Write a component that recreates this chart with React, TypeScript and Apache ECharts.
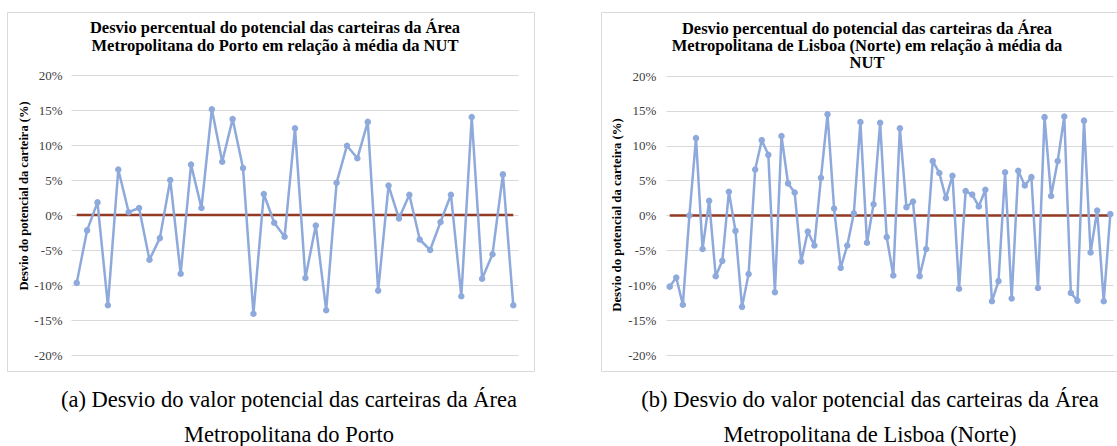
import { useEffect, useRef } from "react";
import * as echarts from "echarts";

// Porto: 43 portfolios, deviation (%) from NUT mean
const portoValues = [
  -9.7, -2.2, 1.8, -12.9, 6.5, 0.4, 1.0, -6.4, -3.3, 5.0,
  -8.4, 7.2, 1.0, 15.1, 7.6, 13.7, 6.7, -14.1, 3.0, -1.1,
  -3.1, 12.4, -9.0, -1.5, -13.6, 4.6, 9.9, 8.1, 13.3, -10.8,
  4.2, -0.5, 2.9, -3.5, -5.0, -1.0, 2.9, -11.6, 14.0, -9.1,
  -5.6, 5.8, -12.9,
];

// Lisboa (Norte): 68 portfolios, deviation (%) from NUT mean
const lisboaValues = [
  -10.2, -8.9, -12.8, 0.0, 11.1, -4.8, 2.1, -8.7, -6.5, 3.4,
  -2.2, -13.1, -8.4, 6.6, 10.8, 8.7, -11.0, 11.4, 4.6, 3.3,
  -6.6, -2.3, -4.3, 5.4, 14.5, 1.0, -7.5, -4.3, 0.3, 13.4,
  -3.9, 1.6, 13.3, -3.1, -8.6, 12.5, 1.2, 2.0, -8.7, -4.8,
  7.8, 6.1, 2.5, 5.7, -10.5, 3.5, 3.0, 1.3, 3.7, -12.3,
  -9.4, 6.2, -11.9, 6.4, 4.3, 5.5, -10.4, 14.1, 2.8, 7.8,
  14.2, -11.1, -12.2, 13.6, -5.3, 0.7, -12.3, 0.2,
];

const portoCategories = portoValues.map((_, i) => String(i + 1));
const lisboaCategories = lisboaValues.map((_, i) => String(i + 1));

// NUT mean reference (deviation 0%)
const nutMean = 0;
const portoMean = portoCategories.map(() => nutMean);
const lisboaMean = lisboaCategories.map(() => nutMean);

const yMin = -20;
const yMax = 20;
const yStep = 5;

const portoTitle =
  "Desvio percentual do potencial das carteiras da Área\nMetropolitana do Porto em relação à média da NUT";
const lisboaTitle =
  "Desvio percentual do potencial das carteiras da Área\nMetropolitana de Lisboa (Norte) em relação à média da\nNUT";
const yName = "Desvio do potencial da carteira (%)";
const portoCaption =
  "(a) Desvio do valor potencial das carteiras da Área\nMetropolitana do Porto";
const lisboaCaption =
  "(b) Desvio do valor potencial das carteiras da Área\nMetropolitana de Lisboa (Norte)";

const SERIF = "'Liberation Serif', 'Times New Roman', serif";
const LINE = "#8EA9DB";
const RED = "#943A22";
const GRID = "#D9D9D9";

export default function App() {
  const ref = useRef<HTMLDivElement>(null);

  useEffect(() => {
    if (!ref.current) return;
    const chart = echarts.init(ref.current, null, { renderer: "svg" });

    const xAxisBase = {
      type: "category" as const,
      boundaryGap: true,
      axisLine: { show: false },
      axisTick: { show: false },
      axisLabel: { show: false },
      splitLine: { show: false },
    };
    const yAxisBase = (margin: number) => ({
      type: "value" as const,
      min: yMin,
      max: yMax,
      interval: yStep,
      axisLine: { show: false },
      axisTick: { show: false },
      axisLabel: {
        formatter: (v: number) => `${v}%`,
        fontFamily: SERIF,
        fontSize: 13,
        color: "#404040",
        margin,
      },
      splitLine: { show: true, lineStyle: { color: GRID, width: 1 } },
    });

    const lineSeries = (data: number[], idx: number) => ({
      type: "line" as const,
      xAxisIndex: idx,
      yAxisIndex: idx,
      data,
      symbol: "circle",
      symbolSize: 6.5,
      showSymbol: true,
      showAllSymbol: true,
      lineStyle: { color: LINE, width: 2.5 },
      itemStyle: { color: LINE },
      z: 3,
    });
    const meanSeries = (data: number[], idx: number) => ({
      type: "line" as const,
      xAxisIndex: idx,
      yAxisIndex: idx,
      data,
      symbol: "none",
      lineStyle: { color: RED, width: 2.5 },
      z: 2,
    });

    const textStyle = (extra: Record<string, unknown>) => ({
      fontFamily: SERIF,
      fill: "#000",
      ...extra,
    });

    chart.setOption({
      animation: false,
      backgroundColor: "#ffffff",
      grid: [
        { left: 71.5, top: 75, width: 447, height: 280 },
        { left: 666.4, top: 76, width: 447.2, height: 279 },
      ],
      xAxis: [
        { ...xAxisBase, gridIndex: 0, data: portoCategories },
        { ...xAxisBase, gridIndex: 1, data: lisboaCategories },
      ],
      yAxis: [
        { ...yAxisBase(9), gridIndex: 0 },
        { ...yAxisBase(10), gridIndex: 1 },
      ],
      series: [
        meanSeries(portoMean, 0),
        lineSeries(portoValues, 0),
        meanSeries(lisboaMean, 1),
        lineSeries(lisboaValues, 1),
      ],
      graphic: [
        {
          type: "rect",
          shape: { x: 7.5, y: 12.5, width: 527, height: 359 },
          style: { fill: "none", stroke: GRID, lineWidth: 1 },
          silent: true,
        },
        {
          type: "rect",
          shape: { x: 601.5, y: 12.5, width: 530, height: 359 },
          style: { fill: "none", stroke: GRID, lineWidth: 1 },
          silent: true,
        },
        {
          type: "text",
          x: 275,
          y: 18,
          style: textStyle({
            text: portoTitle,
            fontWeight: "bold",
            fontSize: 16.5,
            lineHeight: 18,
            align: "center",
            verticalAlign: "top",
          }),
        },
        {
          type: "text",
          x: 867,
          y: 20,
          style: textStyle({
            text: lisboaTitle,
            fontWeight: "bold",
            fontSize: 16.5,
            lineHeight: 17,
            align: "center",
            verticalAlign: "top",
          }),
        },
        {
          type: "text",
          x: 24,
          y: 196,
          rotation: Math.PI / 2,
          style: textStyle({
            text: yName,
            fontWeight: "bold",
            fontSize: 12.5,
            align: "center",
            verticalAlign: "middle",
          }),
        },
        {
          type: "text",
          x: 617,
          y: 215,
          rotation: Math.PI / 2,
          style: textStyle({
            text: yName,
            fontWeight: "bold",
            fontSize: 12.8,
            align: "center",
            verticalAlign: "middle",
          }),
        },
        {
          type: "text",
          x: 289,
          y: 382,
          style: textStyle({
            text: portoCaption,
            fontSize: 22.5,
            lineHeight: 35,
            align: "center",
            verticalAlign: "top",
          }),
        },
        {
          type: "text",
          x: 870,
          y: 382,
          style: textStyle({
            text: lisboaCaption,
            fontSize: 22.5,
            lineHeight: 35,
            align: "center",
            verticalAlign: "top",
          }),
        },
      ],
    });

    return () => chart.dispose();
  }, []);

  return (
    <div
      ref={ref}
      style={{ position: "fixed", left: 0, top: 0, width: 1117, height: 446 }}
    />
  );
}
